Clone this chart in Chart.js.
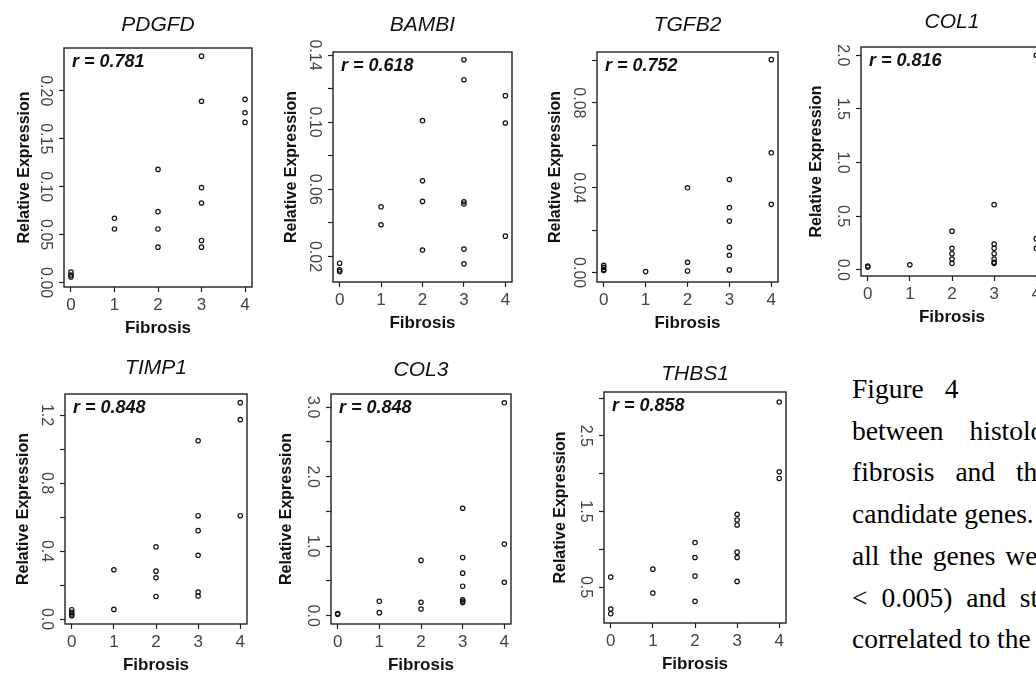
<!DOCTYPE html>
<html>
<head>
<meta charset="utf-8">
<script src="https://cdn.jsdelivr.net/npm/chart.js@4.4.1/dist/chart.umd.min.js"></script>
<style>
  html, body { margin: 0; padding: 0; background: #fff; }
  body { width: 1036px; height: 678px; overflow: hidden; position: relative; }
  canvas { position: absolute; }
  #caption {
    position: absolute; left: 852px; top: 368px;
    font-family: 'Liberation Serif', 'Times New Roman', serif;
    font-size: 27.5px; line-height: 41.7px; color: #000; white-space: nowrap;
  }
</style>
</head>
<body>
<div id="caption">
  <div style="word-spacing:14px">Figure 4</div>
  <div style="word-spacing:19px">between histological</div>
  <div style="word-spacing:14px">fibrosis and the</div>
  <div>candidate genes.</div>
  <div style="word-spacing:3px">all the genes were</div>
  <div style="word-spacing:7px">&lt; 0.005) and strongly</div>
  <div>correlated to the</div>
</div>
<script>
// genes and correlation coefficients
const genes = ['PDGFD', 'BAMBI', 'TGFB2', 'COL1', 'TIMP1', 'COL3', 'THBS1'];
const rValues = ['0.781', '0.618', '0.752', '0.816', '0.848', '0.848', '0.858'];

// fibrosis stage (x) and relative expression (y)
const pdgfdStage = [0,0,0,1,1,2,2,2,2,3,3,3,3,3,3,4,4,4];
const pdgfdExpr  = [0.011,0.008,0.006,0.067,0.056,0.118,0.074,0.056,0.037,0.236,0.189,0.099,0.083,0.044,0.037,0.191,0.177,0.167];
const bambiStage = [0,0,0,1,1,2,2,2,2,3,3,3,3,3,3,4,4,4];
const bambiExpr  = [0.016,0.012,0.011,0.0496,0.0389,0.1009,0.0651,0.0528,0.0238,0.1372,0.1253,0.0526,0.0512,0.0244,0.0156,0.1158,0.0995,0.0321];
const tgfb2Stage = [0,0,0,0,1,2,2,2,3,3,3,3,3,3,4,4,4];
const tgfb2Expr  = [0.0035,0.0025,0.0015,0.001,0.0005,0.040,0.0049,0.0008,0.0439,0.0307,0.0243,0.0119,0.0082,0.0013,0.1004,0.0565,0.0322];
const col1Stage  = [0,0,1,2,2,2,2,2,3,3,3,3,3,3,3,4,4,4];
const col1Expr   = [0.035,0.025,0.047,0.36,0.20,0.15,0.10,0.06,0.607,0.24,0.20,0.15,0.10,0.07,0.06,2.0,0.29,0.20];
const timp1Stage = [0,0,0,0,1,1,2,2,2,2,3,3,3,3,3,3,4,4,4];
const timp1Expr  = [0.055,0.04,0.03,0.02,0.29,0.057,0.425,0.282,0.243,0.133,1.049,0.608,0.520,0.375,0.159,0.135,1.273,1.173,0.608];
const col3Stage  = [0,0,1,1,2,2,2,3,3,3,3,3,3,3,4,4,4];
const col3Expr   = [0.03,0.02,0.207,0.043,0.795,0.193,0.096,1.546,0.838,0.612,0.424,0.23,0.21,0.19,3.063,1.03,0.48];
const thbs1Stage = [0,0,0,1,1,2,2,2,2,3,3,3,3,3,3,4,4,4];
const thbs1Expr  = [0.632,0.21,0.148,0.737,0.421,1.089,0.891,0.645,0.311,1.463,1.388,1.322,0.962,0.891,0.575,2.948,2.025,1.937];

// tick values and labels
const xTicks = [0, 1, 2, 3, 4];
const xTickLabels = ['0', '1', '2', '3', '4'];
const pdgfdTicks = [0, 0.05, 0.1, 0.15, 0.2];
const pdgfdTickLabels = ['0.00', '0.05', '0.10', '0.15', '0.20'];
const bambiTicks = [0.02, 0.04, 0.06, 0.08, 0.10, 0.12, 0.14];
const bambiTickLabels = ['0.02', '', '0.06', '', '0.10', '', '0.14'];
const tgfb2Ticks = [0, 0.02, 0.04, 0.06, 0.08, 0.10];
const tgfb2TickLabels = ['0.00', '', '0.04', '', '0.08', ''];
const col1Ticks = [0, 0.5, 1, 1.5, 2];
const col1TickLabels = ['0.0', '0.5', '1.0', '1.5', '2.0'];
const timp1Ticks = [0, 0.2, 0.4, 0.6, 0.8, 1.0, 1.2];
const timp1TickLabels = ['0.0', '', '0.4', '', '0.8', '', '1.2'];
const col3Ticks = [0, 0.5, 1, 1.5, 2, 2.5, 3];
const col3TickLabels = ['0.0', '', '1.0', '', '2.0', '', '3.0'];
const thbs1Ticks = [0.5, 1, 1.5, 2, 2.5, 3];
const thbs1TickLabels = ['0.5', '', '1.5', '', '2.5', ''];

const stages = [pdgfdStage, bambiStage, tgfb2Stage, col1Stage, timp1Stage, col3Stage, thbs1Stage];
const exprs = [pdgfdExpr, bambiExpr, tgfb2Expr, col1Expr, timp1Expr, col3Expr, thbs1Expr];
const yTicks = [pdgfdTicks, bambiTicks, tgfb2Ticks, col1Ticks, timp1Ticks, col3Ticks, thbs1Ticks];
const yTickLabels = [pdgfdTickLabels, bambiTickLabels, tgfb2TickLabels, col1TickLabels, timp1TickLabels, col3TickLabels, thbs1TickLabels];

// panel placement: plot box [left, top, right, bottom], y limits, title gap, y-title offset
const panels = [
  { box: [64, 48, 252, 287],  ylim: [-0.0045, 0.2445], titleGap: 23, yTitleX: 25 },
  { box: [333, 52, 512, 282], ylim: [0.0048, 0.1418],  titleGap: 27, yTitleX: 23 },
  { box: [597, 52, 778, 282], ylim: [-0.0044, 0.104],  titleGap: 27, yTitleX: 23 },
  { box: [861, 47, 1043, 276], ylim: [-0.058, 2.077],  titleGap: 25, yTitleX: 20 },
  { box: [65, 394, 247, 624], ylim: [-0.029, 1.324],   titleGap: 26, yTitleX: 23 },
  { box: [331, 394, 511, 624], ylim: [-0.12, 3.19],    titleGap: 24, yTitleX: 20 },
  { box: [604, 392, 786, 623], ylim: [0.025, 3.08],    titleGap: 18, yTitleX: 21 }
];

const SANS = "'Liberation Sans', Arial, Helvetica, sans-serif";
const TICK_FONT = "'Liberation Sans Narrow', 'Liberation Sans', Arial, sans-serif";
const LEFT = 64, TOP = 48, BOTTOM = 52, RIGHT = 6, TICK = 5;

const measureCtx = document.createElement('canvas').getContext('2d');
function textWidth(str, size) {
  measureCtx.font = size + 'px ' + TICK_FONT;
  return measureCtx.measureText(str).width;
}

// box round the plot region, like R's bty="o"
const framePlugin = {
  id: 'frame',
  afterDraw(chart) {
    const { ctx, chartArea: a } = chart;
    ctx.save();
    ctx.strokeStyle = '#222';
    ctx.lineWidth = 1.4;
    ctx.strokeRect(a.left, a.top, a.right - a.left, a.bottom - a.top);
    ctx.restore();
  }
};

// "r = ..." note in the top left corner
const rPlugin = {
  id: 'rLabel',
  afterDatasetsDraw(chart, args, opts) {
    const { ctx, chartArea: a } = chart;
    ctx.save();
    ctx.font = 'italic bold 18px ' + SANS;
    ctx.fillStyle = '#111';
    ctx.textBaseline = 'middle';
    ctx.textAlign = 'left';
    ctx.fillText(opts.text, a.left + 8, a.top + 14.5);
    ctx.restore();
  }
};

function makePanel(i) {
  const p = panels[i];
  const [l, t, r, b] = p.box;
  const w = r - l + LEFT + RIGHT, h = b - t + TOP + BOTTOM;
  const cv = document.createElement('canvas');
  cv.width = w; cv.height = h;
  cv.style.width = w + 'px'; cv.style.height = h + 'px';
  cv.style.left = (l - LEFT) + 'px'; cv.style.top = (t - TOP) + 'px';
  document.body.appendChild(cv);

  const pts = stages[i].map((s, k) => ({ x: s, y: exprs[i][k] }));
  const widest = Math.max(...yTickLabels[i].map(s => textWidth(s, 16)));
  const titleTop = 36 - p.titleGap;

  new Chart(cv, {
    type: 'scatter',
    data: {
      datasets: [{
        data: pts,
        pointRadius: 2.2,
        pointHoverRadius: 2.2,
        pointBorderWidth: 1.2,
        borderColor: '#111',
        backgroundColor: 'rgba(0,0,0,0)'
      }]
    },
    options: {
      responsive: false,
      animation: false,
      events: [],
      layout: { padding: { left: 0, right: RIGHT, top: 0, bottom: 0 } },
      plugins: {
        legend: { display: false },
        tooltip: { enabled: false },
        title: {
          display: true,
          text: genes[i],
          fullSize: false,
          color: '#111',
          font: { family: SANS, size: 21, style: 'italic', weight: 'normal', lineHeight: 1.2 },
          padding: { top: titleTop - 0.6, bottom: TOP - 25.2 - titleTop + 0.6 }
        },
        rLabel: { text: 'r = ' + rValues[i] }
      },
      scales: {
        x: {
          type: 'linear',
          min: -0.16, max: 4.16,
          afterFit: s => { s.height = BOTTOM; },
          afterBuildTicks: s => { s.ticks = xTicks.map(v => ({ value: v })); },
          ticks: {
            autoSkip: false, maxRotation: 0, padding: 3,
            color: '#444',
            font: { family: TICK_FONT, size: 17 },
            callback: (v, k) => xTickLabels[k]
          },
          grid: { drawOnChartArea: false, drawTicks: true, tickLength: TICK, tickColor: '#222', tickWidth: 1.2 },
          border: { display: false },
          title: {
            display: true, text: 'Fibrosis', color: '#111',
            font: { family: SANS, size: 17, weight: 'bold' },
            padding: { top: 0, bottom: 0 }
          }
        },
        y: {
          type: 'linear',
          min: p.ylim[0], max: p.ylim[1],
          afterFit: s => { s.width = LEFT; },
          afterBuildTicks: s => { s.ticks = yTicks[i].map(v => ({ value: v })); },
          ticks: {
            autoSkip: false, minRotation: -90, crossAlign: 'center',
            padding: 14 - widest / 2,
            color: '#444',
            font: { family: TICK_FONT, size: 16 },
            callback: (v, k) => yTickLabels[i][k]
          },
          grid: { drawOnChartArea: false, drawTicks: true, tickLength: TICK, tickColor: '#222', tickWidth: 1.2 },
          border: { display: false },
          title: {
            display: true, text: 'Relative Expression', color: '#111',
            font: { family: SANS, size: 16, weight: 'bold', lineHeight: 1.2 },
            padding: { top: p.yTitleX - 9.6, bottom: 0 }
          }
        }
      }
    },
    plugins: [framePlugin, rPlugin]
  });
}

genes.forEach((g, i) => makePanel(i));
</script>
</body>
</html>
